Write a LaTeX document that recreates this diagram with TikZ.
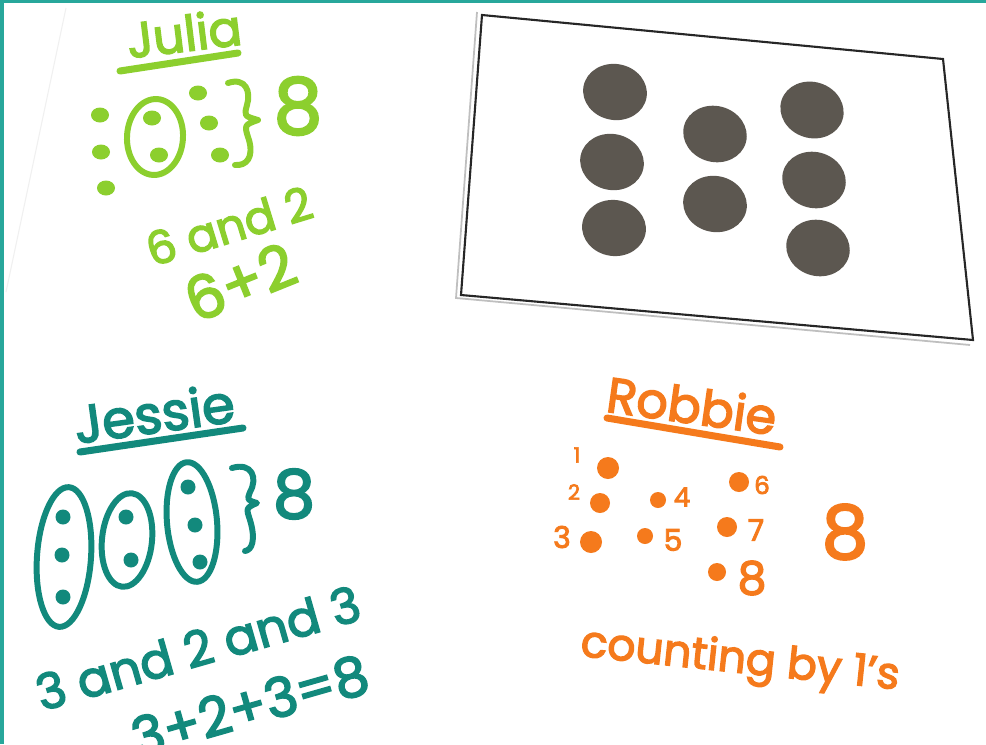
\documentclass[tikz,border=0pt]{standalone}
\usepackage{fontspec}
\setmainfont{Poppins}[FakeBold=3]
\definecolor{juliagreen}{HTML}{8CCF2E}
\definecolor{jessieteal}{HTML}{12897C}
\definecolor{robbieorange}{HTML}{F57A1C}
\definecolor{frameteal}{HTML}{28A79B}
\definecolor{counter}{HTML}{5C5750}

\begin{document}
\begin{tikzpicture}[x=0.2mm,y=-0.2mm,
  hand/.style={inner sep=0pt, font=\fontsize{#1}{#1}\selectfont},
  marker/.style={line width=3.4pt, line cap=round, line join=round}]
  \useasboundingbox (0,0) rectangle (986,744);
  \fill[white] (0,0) rectangle (986,744);
  \fill[frameteal] (0,0) rectangle (4,744);
  \fill[frameteal] (0,0) rectangle (986,3);
  \draw[black!6, line width=0.6pt] (66,8) -- (6,292);

  % dot card
  \draw[black!25, line width=1pt] (477,12) -- (456,298) -- (970,345);
  \draw[black!85, line width=1.2pt] (482,15) -- (943,59) -- (973,340) -- (461,295) -- cycle;
  \foreach \x/\y/\a in {615/92/-10, 612/162/-12, 614/228/-8, 715/134/-15,
                        715/204/-12, 812/110/-18, 814/180/-15, 818/248/-15}
    \fill[counter, rotate around={\a:(\x,\y)}] (\x,\y) ellipse (32 and 28);

  % Julia
  \node[hand=28, text=juliagreen, rotate=7] (julia) at (184,33) {Julia};
  \draw[juliagreen, marker, line width=4pt] (120,71) -- (238,53);
  \foreach \x/\y in {100/115, 101/152, 106/188, 152/118, 159/155,
                     198/93, 209/123, 220/155}
    \fill[juliagreen] (\x,\y) ellipse (9 and 7.5);
  \draw[juliagreen, marker, rotate around={-3:(155,137)}] (155,137) ellipse (28 and 38);
  \draw[juliagreen, marker] (228,83) .. controls (246,77) and (251,92) .. (247,105)
    .. controls (244,116) .. (258,120) .. controls (244,125) .. (249,140)
    .. controls (254,158) and (246,166) .. (235,165);
  \node[hand=44, text=juliagreen] (jsum) at (298,106) {8};
  \node[hand=26, text=juliagreen, rotate=17] (jwords) at (229,226) {6 and 2};
  \node[hand=34, text=juliagreen, rotate=22] (jplus) at (240,282) {6+2};

  % Jessie
  \node[hand=30, text=jessieteal, rotate=8] (jessie) at (154,413) {Jessie};
  \draw[jessieteal, marker, line width=4pt] (80,452) -- (243,428);
  \foreach \cx/\cy/\rx/\ry/\a in {64/557/27/70/-4, 127/540/25/47/-6, 192/522/25/60/5}
    \draw[jessieteal, marker, rotate around={\a:(\cx,\cy)}] (\cx,\cy)
      ellipse [x radius=\rx, y radius=\ry];
  \foreach \x/\y in {63/517, 62/555, 63/597, 126/517, 131/560,
                     188/487, 195/525, 200/562}
    \fill[jessieteal] (\x,\y) circle (7.5);
  \draw[jessieteal, marker] (232,468) .. controls (252,462) and (258,478) .. (250,492)
    .. controls (247,500) .. (257,503) .. controls (246,508) .. (250,520)
    .. controls (256,540) and (252,550) .. (245,551);
  \node[hand=38, text=jessieteal] (ssum) at (294,494) {8};
  \node[hand=28, text=jessieteal, rotate=16] (swords) at (198,648) {3 and 2 and 3};
  \node[hand=31, text=jessieteal, rotate=16] (splus) at (250,706) {3+2+3=8};

  % Robbie
  \node[hand=28, text=robbieorange, rotate=-8] (robbie) at (692,405) {Robbie};
  \draw[robbieorange, marker, line width=4pt] (607,418) -- (780,447);
  \foreach \dx/\dy/\r/\lx/\ly/\s/\n in {608/468/11/577/455/12/1, 600/503/10/574/492/12/2,
      591/542/11/562/537/17/3, 658/500/8/682/497/15/4, 645/536/8/673/540/17/5,
      739/482/10/762/485/14/6, 727/527/10/756/530/17/7, 717/572/9/752/578/26/8}{
    \fill[robbieorange] (\dx,\dy) circle (\r);
    \node[hand=\s, text=robbieorange] (rl\n) at (\lx,\ly) {\n};
  }
  \node[hand=42, text=robbieorange] (rsum) at (845,532) {8};
  \node[hand=25, text=robbieorange, rotate=-6] (rwords) at (740,662) {counting by 1's};
\end{tikzpicture}
\end{document}
